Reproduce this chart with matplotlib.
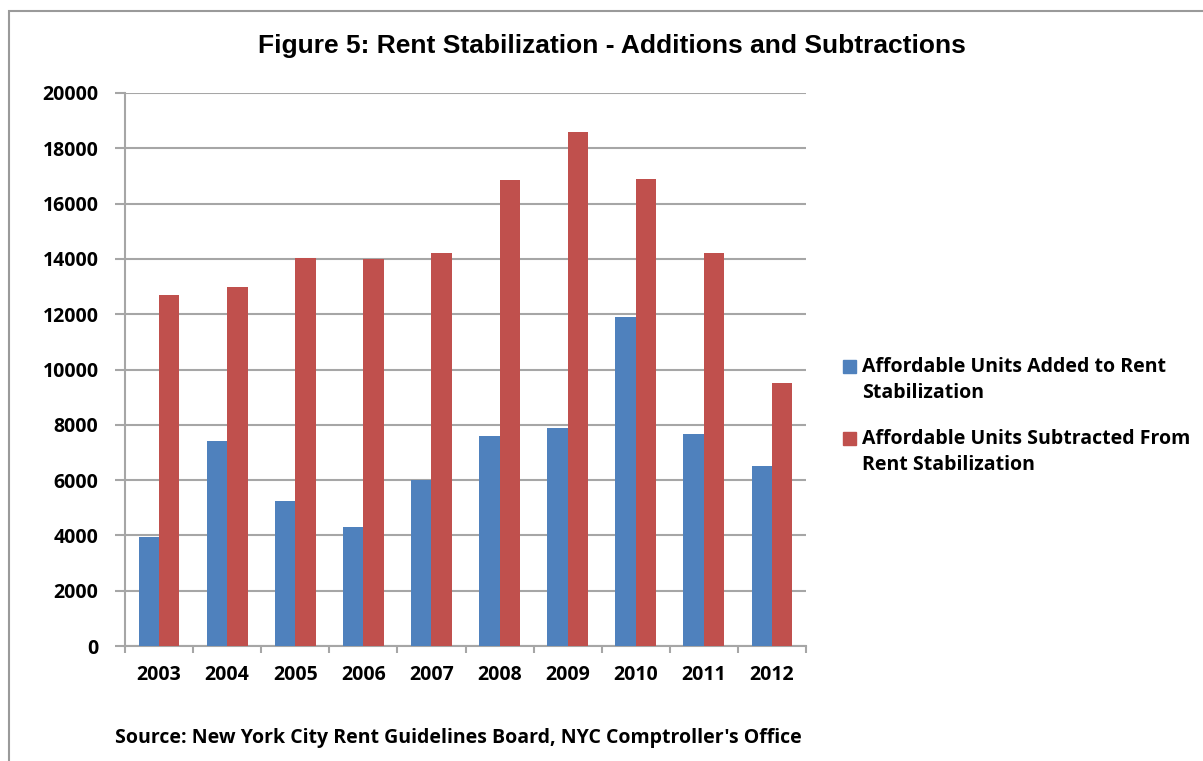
import matplotlib.pyplot as plt
import numpy as np
from matplotlib.patches import Rectangle

years = ["2003", "2004", "2005", "2006", "2007", "2008", "2009", "2010", "2011", "2012"]
added = [3950, 7400, 5250, 4300, 6000, 7600, 7900, 11900, 7650, 6500]
subtracted = [12700, 13000, 14050, 14000, 14200, 16850, 18600, 16900, 14200, 9500]

labels = ["Affordable Units Added to Rent\nStabilization",
          "Affordable Units Subtracted From\nRent Stabilization"]
title = "Figure 5: Rent Stabilization - Additions and Subtractions"
source = "Source: New York City Rent Guidelines Board, NYC Comptroller's Office"

blue = "#4f81bd"
red = "#c0504d"
grid_col = "#a6a6a6"
body_font = ["Open Sans", "DejaVu Sans"]
title_font = ["Liberation Sans Narrow", "Liberation Sans", "DejaVu Sans"]

fig = plt.figure(figsize=(12.03, 7.61), dpi=100)
ax = fig.add_axes([0.1039, 0.1511, 0.5661, 0.7267])

# chart frame
fig.patches.append(Rectangle((9 / 1203, -0.1), 1.2, 1 - 11 / 761 + 0.1,
                             transform=fig.transFigure, fill=False,
                             edgecolor="#9a9a9a", linewidth=1.5))

x = np.arange(len(years))
w = 0.3
ax.bar(x - w, added, width=w, align="edge", color=blue, zorder=3)
ax.bar(x, subtracted, width=w, align="edge", color=red, zorder=3)

ax.set_xlim(-0.5, len(years) - 0.5)
ax.set_ylim(0, 20000)
ax.set_yticks(range(0, 20001, 2000))
ax.yaxis.grid(True, color=grid_col, linewidth=1.5, zorder=0)
ax.set_axisbelow(True)

for s in ["top", "right"]:
    ax.spines[s].set_visible(False)
ax.spines["left"].set_color(grid_col)
ax.spines["bottom"].set_color(grid_col)
ax.spines["left"].set_linewidth(1.5)
ax.spines["bottom"].set_linewidth(1.5)

ax.set_xticks(x)
ax.set_xticklabels(years, fontsize=14, fontweight="bold", family=body_font)
ax.set_xticks(np.arange(-0.5, len(years), 1), minor=True)
ax.tick_params(axis="x", which="major", length=0, pad=14)
ax.tick_params(axis="x", which="minor", length=5, color=grid_col, width=1.5)
ax.tick_params(axis="y", length=7, color=grid_col, width=1.5, pad=12)
for t in ax.get_yticklabels():
    t.set_fontsize(14)
    t.set_fontweight("bold")
    t.set_family(body_font)

fig.text(0.509, 1 - 46 / 761, title, ha="center", va="center", fontsize=19,
         fontweight="bold", family=title_font)
fig.text(115 / 1203, 1 - 738 / 761, source, ha="left", va="center", fontsize=14,
         fontweight="bold", family=body_font)

# legend, square aligned with the first text line
for i, (lab, col) in enumerate(zip(labels, [blue, red])):
    y0 = 366 + i * 72
    fig.patches.append(Rectangle((843 / 1203, 1 - (y0 + 6.5) / 761), 13 / 1203, 13 / 761,
                                 transform=fig.transFigure, color=col))
    fig.text(862 / 1203, 1 - (y0 + 13.5) / 761, lab, ha="left", va="center",
             fontsize=14, fontweight="bold", family=body_font, linespacing=1.4)

fig.savefig("out.png", dpi=100)
